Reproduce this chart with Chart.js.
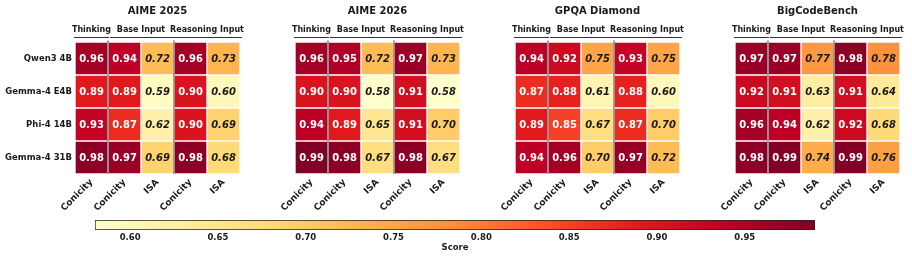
<!DOCTYPE html>
<html lang="en">
<head>
  <meta charset="UTF-8" />
  <title>Conicity / ISA heatmaps</title>
  <script src="https://cdn.jsdelivr.net/npm/chart.js"></script>
  <style>
    body {
      margin: 0;
      background: #ffffff;
      font-family: 'DejaVu Sans', sans-serif;
    }
    #wrap {
      position: relative;
      width: 912px;
      height: 257px;
      overflow: hidden;
    }
    canvas {
      position: absolute;
      top: 0;
    }
  </style>
</head>
<body>
  <div id="wrap">
    <canvas id="panel0" width="260" height="215" style="left:0px"></canvas>
    <canvas id="panel1" width="260" height="215" style="left:220px"></canvas>
    <canvas id="panel2" width="260" height="215" style="left:440px"></canvas>
    <canvas id="panel3" width="260" height="215" style="left:660px"></canvas>
    <canvas id="colorbar" width="912" height="42" style="top:215px;left:0px"></canvas>
  </div>

  <script>
    // rows / columns shared by every panel
    const rowLabels = ["Qwen3 4B", "Gemma-4 E4B", "Phi-4 14B", "Gemma-4 31B"];
    const colLabels = ["Conicity", "Conicity", "ISA", "Conicity", "ISA"];
    const groupLabels = ["Thinking", "Base Input", "Reasoning Input"];
    const groupCols = [[0, 0], [1, 2], [3, 4]];
    const panelTitles = ["AIME 2025", "AIME 2026", "GPQA Diamond", "BigCodeBench"];

    // scores, one row per model
    const aime2025 = [
      [0.96, 0.94, 0.72, 0.96, 0.73],
      [0.89, 0.89, 0.59, 0.90, 0.60],
      [0.93, 0.87, 0.62, 0.90, 0.69],
      [0.98, 0.97, 0.69, 0.98, 0.68]
    ];
    const aime2026 = [
      [0.96, 0.95, 0.72, 0.97, 0.73],
      [0.90, 0.90, 0.58, 0.91, 0.58],
      [0.94, 0.89, 0.65, 0.91, 0.70],
      [0.99, 0.98, 0.67, 0.98, 0.67]
    ];
    const gpqaDiamond = [
      [0.94, 0.92, 0.75, 0.93, 0.75],
      [0.87, 0.88, 0.61, 0.88, 0.60],
      [0.89, 0.85, 0.67, 0.87, 0.70],
      [0.94, 0.96, 0.70, 0.97, 0.72]
    ];
    const bigCodeBench = [
      [0.97, 0.97, 0.77, 0.98, 0.78],
      [0.92, 0.91, 0.63, 0.91, 0.64],
      [0.96, 0.94, 0.62, 0.92, 0.68],
      [0.98, 0.99, 0.74, 0.99, 0.76]
    ];
    const panels = [aime2025, aime2026, gpqaDiamond, bigCodeBench];

    // colour scale
    const scoreMin = 0.58;
    const scoreMax = 0.99;
    const colorbarTicks = [0.60, 0.65, 0.70, 0.75, 0.80, 0.85, 0.90, 0.95];

    const FONT = "'DejaVu Sans', sans-serif";
    const TEXT = "#1a1a1a";
    Chart.defaults.font.family = FONT;
    Chart.defaults.color = TEXT;

    // matplotlib YlOrRd
    const ylOrRd = ["#ffffcc", "#ffeda0", "#fed976", "#feb24c", "#fd8d3c",
                    "#fc4e2a", "#e31a1c", "#bd0026", "#800026"];

    function hexToRgb(h) {
      return [1, 3, 5].map(i => parseInt(h.slice(i, i + 2), 16));
    }

    function scoreColor(v) {
      let t = (v - scoreMin) / (scoreMax - scoreMin);
      t = Math.max(0, Math.min(1, t));
      const pos = t * (ylOrRd.length - 1);
      const i = Math.min(Math.floor(pos), ylOrRd.length - 2);
      const f = pos - i;
      const a = hexToRgb(ylOrRd[i]), b = hexToRgb(ylOrRd[i + 1]);
      const c = a.map((x, k) => Math.round(x + (b[k] - x) * f));
      return `rgb(${c[0]},${c[1]},${c[2]})`;
    }

    // cell values, separators, titles and group headers
    const heatmapDecor = {
      id: "heatmapDecor",
      afterDatasetsDraw(chart) {
        const ctx = chart.ctx;
        const area = chart.chartArea;
        const xs = chart.scales.x;
        const half = area.width / colLabels.length / 2;

        ctx.save();
        ctx.textAlign = "center";
        ctx.textBaseline = "middle";
        chart.data.datasets.forEach((ds, r) => {
          chart.getDatasetMeta(r).data.forEach((bar, c) => {
            const isa = colLabels[c] === "ISA";
            ctx.font = (isa ? "italic bold " : "bold ") + "10px " + FONT;
            ctx.fillStyle = isa ? TEXT : "#ffffff";
            ctx.fillText(ds.scores[c].toFixed(2), bar.x, (bar.y + bar.base) / 2 + 0.5);
          });
        });

        // grey lines between column groups
        ctx.strokeStyle = "#808080";
        ctx.lineWidth = 1.5;
        groupCols.slice(1).forEach(([from]) => {
          const x = xs.getPixelForTick(from) - half;
          ctx.beginPath();
          ctx.moveTo(x, area.top - 1.5);
          ctx.lineTo(x, area.bottom);
          ctx.stroke();
        });

        // panel title
        ctx.fillStyle = TEXT;
        ctx.font = "bold 10px " + FONT;
        ctx.fillText(chart.options.plugins.heatmapDecor.title, (area.left + area.right) / 2, 11);

        // group headers with underline
        ctx.font = "bold 8px " + FONT;
        ctx.strokeStyle = "#333333";
        ctx.lineWidth = 1;
        groupLabels.forEach((label, g) => {
          const [from, to] = groupCols[g];
          const left = xs.getPixelForTick(from) - half;
          const right = xs.getPixelForTick(to) + half;
          const cx = (left + right) / 2;
          ctx.fillText(label, cx, 30);
          const w = Math.max(right - left - 4, ctx.measureText(label).width - 4);
          ctx.beginPath();
          ctx.moveTo(cx - w / 2, 37.5);
          ctx.lineTo(cx + w / 2, 37.5);
          ctx.stroke();
        });
        ctx.restore();
      }
    };

    panels.forEach((panel, k) => {
      const showRows = k === 0;
      new Chart(document.getElementById("panel" + k), {
        type: "bar",
        data: {
          labels: colLabels,
          datasets: rowLabels.map((name, r) => ({
            label: name,
            scores: panel[r],
            data: panel[r].map(() => [r, r + 1]),
            backgroundColor: panel[r].map(scoreColor),
            borderColor: "#ffffff",
            borderWidth: 1,
            borderSkipped: false,
            grouped: false,
            categoryPercentage: 1,
            barPercentage: 1
          }))
        },
        options: {
          responsive: false,
          animation: false,
          devicePixelRatio: 1,
          layout: { padding: { top: 42, right: 20, left: 0, bottom: 0 } },
          plugins: {
            legend: { display: false },
            tooltip: { enabled: false },
            heatmapDecor: { title: panelTitles[k] }
          },
          scales: {
            x: {
              grid: { display: false, drawTicks: false },
              border: { display: false },
              ticks: {
                autoSkip: false,
                maxRotation: 45,
                minRotation: 45,
                padding: 3,
                color: TEXT,
                font: { weight: "bold", size: 9 }
              },
              afterFit(scale) { scale.height = 41; }
            },
            y: {
              min: 0,
              max: rowLabels.length,
              reverse: true,
              grid: { display: false, drawTicks: false },
              border: { display: false },
              afterBuildTicks(scale) {
                scale.ticks = rowLabels.map((_, i) => ({ value: i + 0.5 }));
              },
              ticks: {
                autoSkip: false,
                padding: 3,
                color: TEXT,
                font: { weight: "bold", size: 8.5 },
                callback: v => showRows ? rowLabels[Math.floor(v)] : ""
              },
              afterFit(scale) { scale.width = 75; }
            }
          }
        },
        plugins: [heatmapDecor]
      });
    });

    // colour bar
    new Chart(document.getElementById("colorbar"), {
      type: "bar",
      data: {
        labels: ["Score"],
        datasets: [{
          data: [[scoreMin, scoreMax]],
          backgroundColor(c) {
            const area = c.chart.chartArea;
            if (!area) return null;
            const g = c.chart.ctx.createLinearGradient(area.left, 0, area.right, 0);
            ylOrRd.forEach((col, i) => g.addColorStop(i / (ylOrRd.length - 1), col));
            return g;
          },
          borderColor: "#222222",
          borderWidth: 1,
          borderSkipped: false,
          categoryPercentage: 1,
          barPercentage: 1
        }]
      },
      options: {
        indexAxis: "y",
        responsive: false,
        animation: false,
        devicePixelRatio: 1,
        layout: { padding: { top: 5, left: 95, right: 97, bottom: 0 } },
        plugins: { legend: { display: false }, tooltip: { enabled: false } },
        scales: {
          x: {
            type: "linear",
            min: scoreMin,
            max: scoreMax,
            grid: { display: false, drawTicks: false },
            border: { display: false },
            afterBuildTicks(scale) {
              scale.ticks = colorbarTicks.map(v => ({ value: v }));
            },
            ticks: {
              padding: 3,
              color: TEXT,
              font: { weight: "bold", size: 8.5 },
              callback: v => v.toFixed(2)
            },
            title: {
              display: true,
              text: "Score",
              color: TEXT,
              font: { weight: "bold", size: 8.5 },
              padding: { top: 0, bottom: 4 }
            },
            afterFit(scale) { scale.height = 27; }
          },
          y: { display: false }
        }
      }
    });
  </script>
</body>
</html>
